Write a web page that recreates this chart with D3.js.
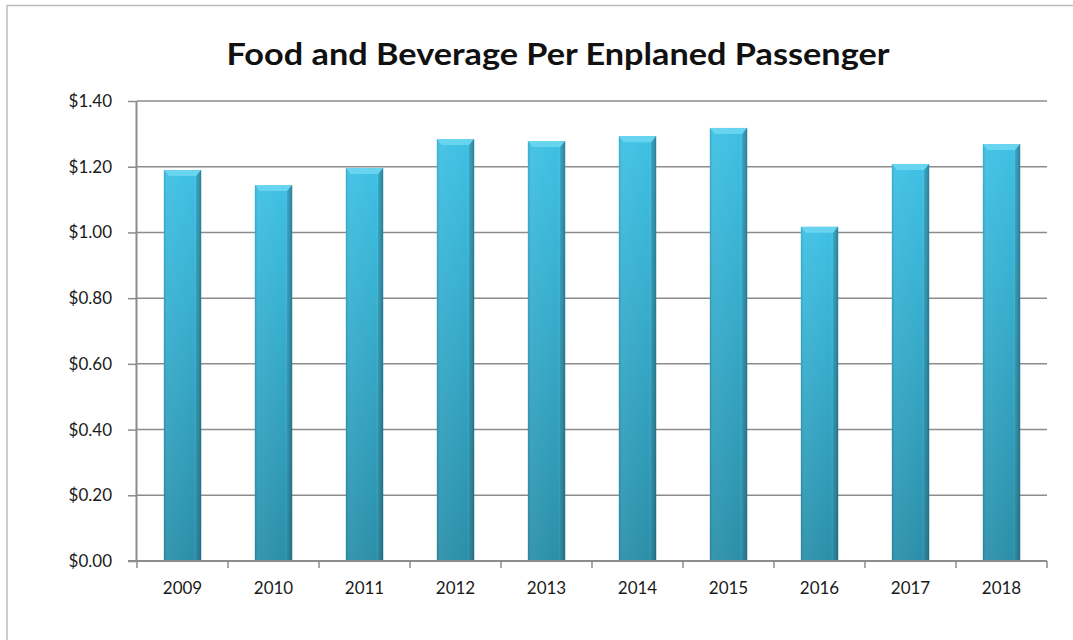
<!DOCTYPE html>
<html>
<head>
<meta charset="utf-8">
<script src="https://cdn.jsdelivr.net/npm/d3@7"></script>
<style>
  body { margin: 0; background: #fff; }
  svg { display: block; }
</style>
</head>
<body>
<svg id="chart"></svg>
<script>
// data
const years = ["2009", "2010", "2011", "2012", "2013", "2014", "2015", "2016", "2017", "2018"];
const perPassenger = [1.19, 1.144, 1.196, 1.284, 1.278, 1.293, 1.318, 1.017, 1.208, 1.269];
const yTicks = [0, 0.2, 0.4, 0.6, 0.8, 1.0, 1.2, 1.4];

const W = 1073, H = 640;
const svg = d3.select("#chart").attr("width", W).attr("height", H);
const font = "Lato, 'Open Sans', sans-serif";

// frame
svg.append("rect").attr("width", W).attr("height", H).attr("fill", "#fff");
svg.append("path")
  .attr("d", `M7,${H} V5.5 H${W}`)
  .attr("fill", "none")
  .attr("stroke", "#bdbdbd")
  .attr("stroke-width", 1.5);

const pLeft = 137, pRight = 1047, pTop = 101, pBottom = 561;

const x = d3.scaleBand().domain(years).range([pLeft, pRight]).paddingInner(0.59).paddingOuter(0.295);
const xEdge = d3.scaleBand().domain(years).range([pLeft, pRight]);
const y = d3.scaleLinear().domain([0, 1.4]).range([pBottom, pTop]);

// gradients
const defs = svg.append("defs");
const gv = defs.append("linearGradient").attr("id", "barV").attr("x1", 0).attr("y1", 0).attr("x2", 0).attr("y2", 1);
gv.append("stop").attr("offset", "0%").attr("stop-color", "#3ec0e4");
gv.append("stop").attr("offset", "100%").attr("stop-color", "#2b8fa9");
const gh = defs.append("linearGradient").attr("id", "barH").attr("x1", 0).attr("y1", 0).attr("x2", 1).attr("y2", 0);
gh.append("stop").attr("offset", "0%").attr("stop-color", "#000").attr("stop-opacity", 0.12);
gh.append("stop").attr("offset", "8%").attr("stop-color", "#fff").attr("stop-opacity", 0.06);
gh.append("stop").attr("offset", "80%").attr("stop-color", "#fff").attr("stop-opacity", 0);
gh.append("stop").attr("offset", "100%").attr("stop-color", "#000").attr("stop-opacity", 0.3);

// gridlines
svg.append("g")
  .selectAll("line")
  .data(yTicks.slice(1))
  .join("line")
  .attr("x1", pLeft).attr("x2", pRight)
  .attr("y1", d => y(d)).attr("y2", d => y(d))
  .attr("stroke", "#8c8c8c")
  .attr("stroke-width", 1.5);

// y axis
const yAxis = svg.append("g")
  .attr("transform", `translate(${pLeft},0)`)
  .call(d3.axisLeft(y).tickValues(yTicks).tickSize(9).tickPadding(16).tickFormat(d => "$" + d.toFixed(2)));
yAxis.select(".domain").attr("stroke", "#8c8c8c").attr("stroke-width", 2).attr("d", `M-0.5,${pTop}V${pBottom}`);
yAxis.selectAll(".tick line").attr("stroke", "#8c8c8c").attr("stroke-width", 1.5);
yAxis.selectAll("text").attr("fill", "#1a1a1a").style("font-family", font).style("font-size", "17px");

// bars
const bars = svg.append("g").selectAll("g")
  .data(years.map((yr, i) => ({ yr, v: perPassenger[i] })))
  .join("g");

bars.append("rect")
  .attr("x", d => x(d.yr)).attr("width", x.bandwidth())
  .attr("y", d => y(d.v)).attr("height", d => y(0) - y(d.v))
  .attr("fill", "url(#barV)");
bars.append("rect")
  .attr("x", d => x(d.yr)).attr("width", x.bandwidth())
  .attr("y", d => y(d.v)).attr("height", d => y(0) - y(d.v))
  .attr("fill", "url(#barH)");
// bevelled top
bars.append("path")
  .attr("d", d => {
    const x0 = x(d.yr), x1 = x0 + x.bandwidth(), t = y(d.v);
    return `M${x0},${t} H${x1} L${x1 - 5},${t + 6} H${x0 + 5} Z`;
  })
  .attr("fill", "#6fd8f2").attr("opacity", 0.85);
bars.append("path")
  .attr("d", d => {
    const x1 = x(d.yr) + x.bandwidth(), t = y(d.v);
    return `M${x1},${t} L${x1 - 5},${t + 6} V${y(0)} H${x1} Z`;
  })
  .attr("fill", "#1d6f86").attr("opacity", 0.35);

// x axis
const xAxis = svg.append("g").attr("transform", `translate(0,${pBottom})`);
xAxis.append("line").attr("x1", pLeft - 9).attr("x2", pRight).attr("stroke", "#8c8c8c").attr("stroke-width", 2);
xAxis.selectAll(".edge")
  .data(years.concat(["end"]))
  .join("line")
  .attr("class", "edge")
  .attr("x1", (d, i) => i < years.length ? xEdge(d) : pRight)
  .attr("x2", (d, i) => i < years.length ? xEdge(d) : pRight)
  .attr("y1", 0).attr("y2", 7)
  .attr("stroke", "#8c8c8c").attr("stroke-width", 1.5);
xAxis.selectAll("text")
  .data(years)
  .join("text")
  .attr("x", d => x(d) + x.bandwidth() / 2)
  .attr("y", 33)
  .attr("text-anchor", "middle")
  .attr("fill", "#1a1a1a")
  .style("font-family", font)
  .style("font-size", "17px")
  .text(d => d);

// title
svg.append("text")
  .attr("x", 558).attr("y", 65)
  .attr("text-anchor", "middle")
  .attr("textLength", 663).attr("lengthAdjust", "spacingAndGlyphs")
  .style("font-family", font)
  .style("font-weight", "bold")
  .style("font-size", "30px")
  .attr("fill", "#111")
  .text("Food and Beverage Per Enplaned Passenger");
</script>
</body>
</html>
